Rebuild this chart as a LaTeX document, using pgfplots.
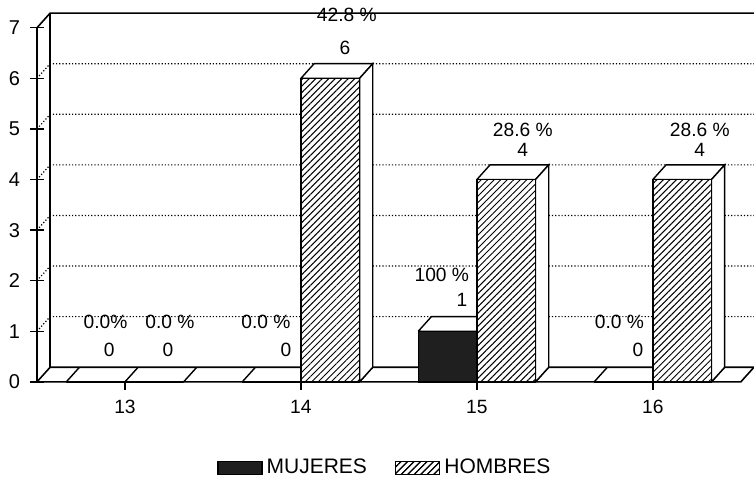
\documentclass[border=0pt]{standalone}
\usepackage{fontspec}
\setmainfont{Liberation Sans}
\usepackage{pgfplots}
\usepackage{pgfplotstable}
\pgfplotsset{compat=1.18}
\usetikzlibrary{patterns.meta}

\pgfplotstableread{
x mujeres hombres
0 0 0
1 0 6
2 1 4
3 0 4
}\datatable

\tikzset{hatch/.style={fill=white, postaction={pattern={Lines[angle=45,distance=2.3pt,line width=0.5pt]}}}}

\begin{document}
\begin{tikzpicture}
\begin{axis}[
  scale only axis, width=358.6pt, height=184.69pt,
  xmin=-0.5, xmax=3.575, ymin=0, ymax=7.3,
  clip=false,
  axis x line=none, axis y line*=left,
  y axis line style={draw=none},
  ytick={0,...,7},
  tick align=center, major tick length=7pt,
  ytick style={black, line width=0.7pt},
  yticklabel style={font=\fontsize{10}{11}\selectfont, xshift=-1.5pt},
  /pgf/number format/assume math mode=true,
  legend style={at={(0.4866,-0.233)}, anchor=center, draw=none, fill=none,
    font=\fontsize{10.5}{12}\selectfont, legend columns=2,
    /tikz/every even column/.append style={column sep=12pt}},
  legend cell align=left,
]
% dotted grid on back wall and left wall
\addplot[densely dotted, line width=0.6pt, forget plot, unbounded coords=jump] coordinates {
 (-0.5,1)(-0.425,1.29)(3.575,1.29) (0,nan)
 (-0.5,2)(-0.425,2.29)(3.575,2.29) (0,nan)
 (-0.5,3)(-0.425,3.29)(3.575,3.29) (0,nan)
 (-0.5,4)(-0.425,4.29)(3.575,4.29) (0,nan)
 (-0.5,5)(-0.425,5.29)(3.575,5.29) (0,nan)
 (-0.5,6)(-0.425,6.29)(3.575,6.29)
};
% floor
\addplot[black, line width=0.8pt, forget plot] coordinates {
 (-0.5,0)(3.5,0)(3.575,0.29)(-0.425,0.29)(-0.5,0)};
\addplot[black, line width=0.7pt, forget plot, unbounded coords=jump] coordinates {
 (-0.3333,0)(-0.2583,0.29) (0,nan)
 (0,0)(0.075,0.29) (0,nan)
 (0.3333,0)(0.4083,0.29) (0,nan)
 (0.6667,0)(0.7417,0.29) (0,nan)
 (1,0)(1.075,0.29) (0,nan)
 (1.3333,0)(1.4083,0.29) (0,nan)
 (1.6667,0)(1.7417,0.29) (0,nan)
 (2,0)(2.075,0.29) (0,nan)
 (2.3333,0)(2.4083,0.29) (0,nan)
 (2.6667,0)(2.7417,0.29) (0,nan)
 (3,0)(3.075,0.29) (0,nan)
 (3.3333,0)(3.4083,0.29)
};
% frame
\addplot[black, line width=0.8pt, forget plot] coordinates {
 (-0.5,0)(-0.5,7)(-0.425,7.29)(3.575,7.29)};
\addplot[black, line width=0.8pt, forget plot] coordinates {
 (-0.425,0.29)(-0.425,7.29)};
% x ticks
\addplot[black, line width=0.7pt, forget plot, unbounded coords=jump] coordinates {
 (0,0)(0,-0.16) (0,nan) (1,0)(1,-0.16) (0,nan) (2,0)(2,-0.16) (0,nan) (3,0)(3,-0.16)};

% MUJERES 3D faces (bar at 15, value 1)
\addplot[fill=white, draw=black, line width=0.7pt, forget plot] coordinates {
 (1.6667,1)(2,1)(2.075,1.29)(1.7417,1.29)(1.6667,1)};
\addplot[fill=white, draw=black, line width=0.7pt, forget plot] coordinates {
 (2,0)(2,1)(2.075,1.29)(2.075,0.29)(2,0)};
% MUJERES fronts
\addplot[ybar, bar width=0.3333, bar shift=-0.16667, fill=black!88, draw=black, line width=0.7pt,
  legend image code/.code={\draw[fill=black!88, draw=black] (0pt,-3.3pt) rectangle (22pt,3.3pt);}]
  table[x=x, y=mujeres] {\datatable};
\addlegendentry{MUJERES}

% HOMBRES 3D faces
\addplot[fill=white, draw=black, line width=0.7pt, forget plot] coordinates {
 (1,6)(1.3333,6)(1.4083,6.29)(1.075,6.29)(1,6)};
\addplot[fill=white, draw=black, line width=0.7pt, forget plot] coordinates {
 (1.3333,0)(1.3333,6)(1.4083,6.29)(1.4083,0.29)(1.3333,0)};
\addplot[fill=white, draw=black, line width=0.7pt, forget plot] coordinates {
 (2,4)(2.3333,4)(2.4083,4.29)(2.075,4.29)(2,4)};
\addplot[fill=white, draw=black, line width=0.7pt, forget plot] coordinates {
 (2.3333,0)(2.3333,4)(2.4083,4.29)(2.4083,0.29)(2.3333,0)};
\addplot[fill=white, draw=black, line width=0.7pt, forget plot] coordinates {
 (3,4)(3.3333,4)(3.4083,4.29)(3.075,4.29)(3,4)};
\addplot[fill=white, draw=black, line width=0.7pt, forget plot] coordinates {
 (3.3333,0)(3.3333,4)(3.4083,4.29)(3.4083,0.29)(3.3333,0)};
% HOMBRES fronts
\addplot[ybar, bar width=0.3333, bar shift=0.16667, hatch, draw=black, line width=0.7pt,
  legend image code/.code={\draw[hatch, draw=black] (0pt,-3.3pt) rectangle (22pt,3.3pt);}]
  table[x=x, y=hombres] {\datatable};
\addlegendentry{HOMBRES}

% value labels
\begin{scope}[every node/.style={font=\fontsize{9.6}{10}\selectfont, inner sep=0pt}]
\node at (axis cs:-0.11,1.18) {0.0\%};
\node at (axis cs:-0.09,0.63) {0};
\node at (axis cs:0.256,1.18) {0.0 \%};
\node at (axis cs:0.244,0.63) {0};
\node at (axis cs:0.801,1.18) {0.0 \%};
\node at (axis cs:0.915,0.63) {0};
\node at (axis cs:1.261,7.25) {42.8 \%};
\node at (axis cs:1.25,6.6) {6};
\node at (axis cs:1.801,2.11) {100 \%};
\node at (axis cs:1.915,1.62) {1};
\node at (axis cs:2.261,4.98) {28.6 \%};
\node at (axis cs:2.261,4.58) {4};
\node at (axis cs:2.81,1.18) {0.0 \%};
\node at (axis cs:2.915,0.63) {0};
\node at (axis cs:3.267,4.98) {28.6 \%};
\node at (axis cs:3.267,4.58) {4};
% category labels
\node at (axis cs:0,-0.5) {13};
\node at (axis cs:1,-0.5) {14};
\node at (axis cs:2,-0.5) {15};
\node at (axis cs:3,-0.5) {16};
\end{scope}
\coordinate (bbBL) at (axis cs:-0.71,-1.917);
\coordinate (bbTR) at (axis cs:3.575,7.549);
\end{axis}
\pgfresetboundingbox
\path (bbBL) rectangle (bbTR);
\end{tikzpicture}
\end{document}
